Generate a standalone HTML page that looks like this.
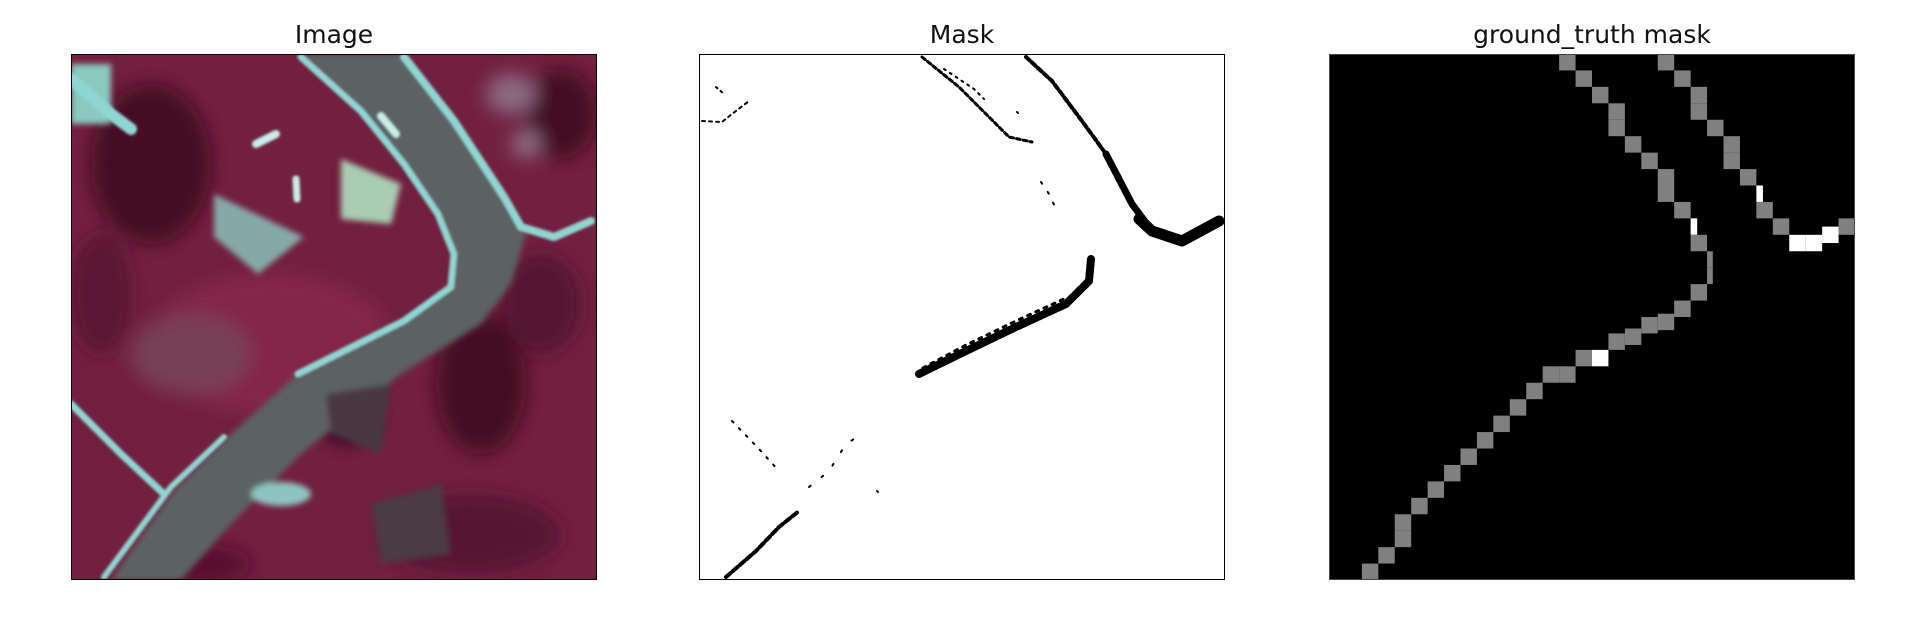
<!DOCTYPE html>
<html><head><meta charset="utf-8">
<style>
html,body{margin:0;padding:0;background:#fff;}
body{width:1910px;height:644px;position:relative;overflow:hidden;font-family:"DejaVu Sans","Liberation Sans",sans-serif;}
.title{position:absolute;top:18px;width:526px;text-align:center;font-size:25px;color:#111;line-height:34px;}
.panel{position:absolute;top:54px;width:526px;height:526px;box-sizing:border-box;}
svg{display:block;}
</style></head>
<body>
<div class="title" style="left:71px">Image</div>
<div class="title" style="left:699px">Mask</div>
<div class="title" style="left:1329px">ground_truth mask</div>

<div class="panel" style="left:71px">
<svg width="526" height="526" viewBox="0 0 526 526">
<defs>
<filter id="b3"><feGaussianBlur stdDeviation="3"/></filter>
<filter id="b8"><feGaussianBlur stdDeviation="9"/></filter>
<filter id="b1"><feGaussianBlur stdDeviation="1.2"/></filter>
</defs>
<rect width="526" height="526" fill="#72203f"/>
<g filter="url(#b8)">
<ellipse cx="200" cy="290" rx="120" ry="70" fill="#842848"/>
<ellipse cx="80" cy="110" rx="60" ry="80" fill="#440a22"/>
<ellipse cx="490" cy="60" rx="35" ry="45" fill="#440e24"/>
<ellipse cx="410" cy="330" rx="45" ry="70" fill="#440c22"/>
<ellipse cx="470" cy="250" rx="40" ry="50" fill="#541230"/>
<ellipse cx="275" cy="355" rx="30" ry="35" fill="#360620"/>
<ellipse cx="400" cy="480" rx="90" ry="40" fill="#561232"/>
<ellipse cx="130" cy="510" rx="50" ry="20" fill="#5a0e2e"/>
<ellipse cx="120" cy="300" rx="60" ry="40" fill="#784056"/>
<ellipse cx="440" cy="40" rx="25" ry="20" fill="#8a6a80"/>
<ellipse cx="455" cy="90" rx="15" ry="15" fill="#8a6a80"/>
<ellipse cx="30" cy="240" rx="30" ry="60" fill="#5a1230"/>
</g>
<g filter="url(#b3)">
<polygon points="230,0 333,0 383,67 433,143 455,180 440,230 410,270 330,320 230,400 160,470 110,526 40,526 100,440 160,380 227,320 333,267 380,233 383,200 367,160 333,110 290,57" fill="#5c6262"/>
<polygon points="0,10 40,10 40,70 0,70" fill="#8ac8c0"/>
<polygon points="143,140 233,183 187,220 143,183" fill="#86a8a6"/>
<polygon points="270,105 330,130 320,170 270,165" fill="#a9ccb2"/>
<polygon points="255,340 320,330 310,400 260,380" fill="#4a3840"/>
<polygon points="300,450 370,430 380,500 310,510" fill="#4b3b44"/>
<ellipse cx="210" cy="440" rx="30" ry="12" fill="#8ec4c0"/>
</g>
<g fill="none" stroke="#8fd6d2" stroke-linecap="round" filter="url(#b1)">
<polyline points="230,3 290,57 333,110 367,160 383,200 380,233 333,267 227,320" stroke-width="7"/>
<polyline points="333,3 383,67 433,143 450,173 483,183 520,167" stroke-width="8"/>
<polyline points="153,383 100,433 33,523" stroke-width="6"/>
<polyline points="0,350 50,400 93,440" stroke-width="7"/>
<polyline points="0,25 40,60 60,75" stroke-width="12"/>
<polyline points="185,90 205,80" stroke-width="8" stroke="#c8eee8"/>
<polyline points="310,62 325,80" stroke-width="8" stroke="#c8eee8"/>
<polyline points="225,125 226,145" stroke-width="7" stroke="#c8eee8"/>
</g>
<rect x="0.5" y="0.5" width="525" height="525" fill="none" stroke="#000" stroke-width="1"/>
</svg></div>

<div class="panel" style="left:699px">
<svg width="526" height="526" viewBox="0 0 526 526">
<rect width="526" height="526" fill="#fff"/>
<g fill="none" stroke="#000" stroke-linecap="round" stroke-linejoin="round">
<polyline points="223,3 260,33 290,63 310,83 333,88" stroke-width="3" stroke-dasharray="4 3"/>
<polyline points="245,15 275,35 285,45" stroke-width="2" stroke-dasharray="2 5"/>
<polyline points="327,3 353,27 383,67 407,100" stroke-width="4" stroke-dasharray="5 3"/>
<polyline points="407,100 433,150 453,177" stroke-width="7" stroke-dasharray="6 2"/>
<polyline points="440,165 453,177 483,187 520,167" stroke-width="11"/>
<polyline points="220,320 267,297 317,273 367,250 390,227 392,205" stroke-width="8" stroke-dasharray="9 2"/>
<polyline points="224,314 267,291 317,267 367,244" stroke-width="3" stroke-dasharray="3 6"/>
<polyline points="27,523 57,497 80,473 100,457" stroke-width="4" stroke-dasharray="6 3"/>
<polyline points="110,433 130,417 147,390 155,385" stroke-width="2" stroke-dasharray="2 14"/>
<polyline points="33,367 60,395 80,417" stroke-width="2" stroke-dasharray="2 8"/>
<polyline points="3,67 23,68 33,60 50,47" stroke-width="2" stroke-dasharray="3 4"/>
<polyline points="17,33 25,40" stroke-width="2" stroke-dasharray="2 4"/>
<polyline points="342,128 350,140 358,157" stroke-width="2" stroke-dasharray="2 10"/>
<polyline points="178,437 179,438" stroke-width="2"/>
<polyline points="318,58 319,59" stroke-width="2"/>
</g>
<rect x="0.5" y="0.5" width="525" height="525" fill="none" stroke="#000" stroke-width="1"/>
</svg></div>

<div class="panel" style="left:1329px">
<svg id="gt" width="526" height="526" viewBox="0 0 526 526">
<rect width="526" height="526" fill="#000"/>
</svg></div>

<script>
const gtCol = [14,15,16,17,17,18,19,20,20,21,22,22,23,23,22,21,20,19,18,17,16,15,14,13,12,11,10,9,8,7,6,5,4,4,3,2,
               20,21,22,22,23,24,24,25,26,26,27,28,29,30,31];
const gtRow = [0,1,2,3,4,5,6,7,8,9,10,11,12,13,14,15,15.8,16,16.7,17,18,18,19,19,20,21,22,23,24,25,26,27,28,29,30,31,
               0,1,2,3,4,5,6,7,8,9,10,11,11,10.5,10];
const gtVal = [1,1,1,1,1,1,1,1,1,1,2,1,1,1,1,1,1,1,1,1,2,1,1,1,1,1,1,1,1,1,1,1,1,1,1,1,
               1,1,1,1,1,1,1,1,2,1,1,2,2,2,1];
const gtCover = [1,1,1,1,1,1,1,1,1,1,0.4,1,0.35,0.35,1,1,1,1,1,1,1,1,1,1,1,1,1,1,1,1,1,1,1,1,1,1,
                 1,1,1,1,1,1,1,1,0.4,1,1,1,1,1,1];
const gridN = 32, size = 526;
const xs = c => c * size / gridN;
const ys = r => r * size / gridN;
const colorOf = v => v === 2 ? '#ffffff' : '#808080';
const svg = document.getElementById('gt');
for (let i = 0; i < gtCol.length; i++) {
  const r = document.createElementNS('http://www.w3.org/2000/svg', 'rect');
  r.setAttribute('x', xs(gtCol[i]));
  r.setAttribute('y', ys(gtRow[i]));
  r.setAttribute('width', xs(gtCover[i]));
  r.setAttribute('height', ys(1));
  r.setAttribute('fill', colorOf(gtVal[i]));
  
  
  svg.appendChild(r);
}
const fr = document.createElementNS('http://www.w3.org/2000/svg', 'rect');
fr.setAttribute('x', 0.5); fr.setAttribute('y', 0.5);
fr.setAttribute('width', 525); fr.setAttribute('height', 525);
fr.setAttribute('fill', 'none'); fr.setAttribute('stroke', '#444');


svg.appendChild(fr);
</script>
</body></html>
